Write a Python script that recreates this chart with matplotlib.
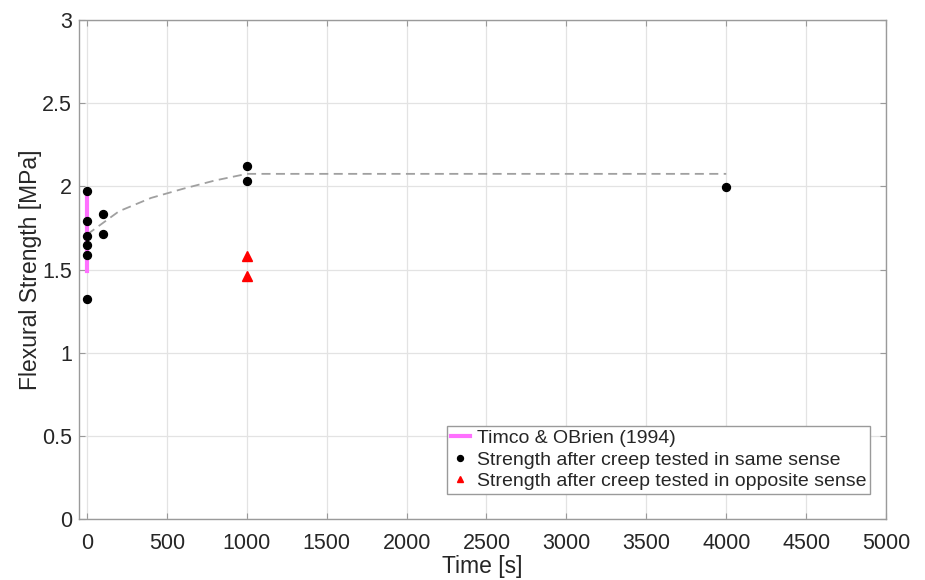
import matplotlib
matplotlib.use("Agg")
import matplotlib.pyplot as plt

plt.rcParams['font.family'] = ['Liberation Sans', 'DejaVu Sans']

# Data
timco_t = [0, 0]
timco_s = [1.49, 1.97]

same_t = [0, 0, 0, 0, 0, 0, 100, 100, 1000, 1000, 4000]
same_s = [1.97, 1.79, 1.70, 1.645, 1.585, 1.325, 1.835, 1.715, 2.125, 2.035, 1.995]

opp_t = [1000, 1000]
opp_s = [1.58, 1.46]

trend_t = [0, 50, 100, 200, 400, 600, 800, 1000, 4000]
trend_s = [1.71, 1.745, 1.78, 1.85, 1.93, 1.985, 2.035, 2.075, 2.075]

TEXT = '#262626'
GRID = '#e3e3e3'
SPINE = '#9a9a9a'

fig = plt.figure(figsize=(9.25, 5.8), dpi=100)
ax = fig.add_axes([79 / 925, 1 - 519 / 580, (886 - 79) / 925, (519 - 20) / 580])

ax.plot(trend_t, trend_s, color='#a0a0a0', linestyle=(0, (5, 3)), linewidth=1.3, zorder=2)
ax.plot(timco_t, timco_s, color='#ff70ff', linewidth=3, zorder=3,
        label='Timco & OBrien (1994)')
ax.plot(same_t, same_s, 'o', color='black', markersize=5.7, linestyle='none', zorder=4,
        label='Strength after creep tested in same sense')
ax.plot(opp_t, opp_s, '^', color='red', markersize=6.5, linestyle='none', zorder=4,
        label='Strength after creep tested in opposite sense')

ax.set_xlim(-50, 5000)
ax.set_ylim(0, 3)
ax.set_xticks(range(0, 5001, 500))
ax.set_yticks([0, 0.5, 1, 1.5, 2, 2.5, 3])
ax.set_yticklabels(['0', '0.5', '1', '1.5', '2', '2.5', '3'])
ax.grid(True, color=GRID, linewidth=0.9)
ax.set_axisbelow(True)
for sp in ax.spines.values():
    sp.set_color(SPINE)
    sp.set_linewidth(1.0)
ax.tick_params(direction='in', colors=SPINE, labelcolor=TEXT, labelsize=15.5,
               length=4, top=True, right=True)
ax.tick_params(axis='x', pad=10)
ax.tick_params(axis='y', pad=5)

ax.set_xlabel('Time [s]', fontsize=16.5, color=TEXT, labelpad=1)
ax.set_ylabel('Flexural Strength [MPa]', fontsize=16.5, color=TEXT, labelpad=0)

leg = ax.legend(loc='lower right', bbox_to_anchor=(0.9805, 0.05), fontsize=14,
                frameon=True, fancybox=False, edgecolor='#9a9a9a', framealpha=1,
                handlelength=1.0, handletextpad=0.35, borderpad=0.2,
                labelspacing=0.2, borderaxespad=0, markerscale=0.75)
leg.get_frame().set_linewidth(1.0)
for t in leg.get_texts():
    t.set_color(TEXT)

fig.savefig('out.png', dpi=100)
